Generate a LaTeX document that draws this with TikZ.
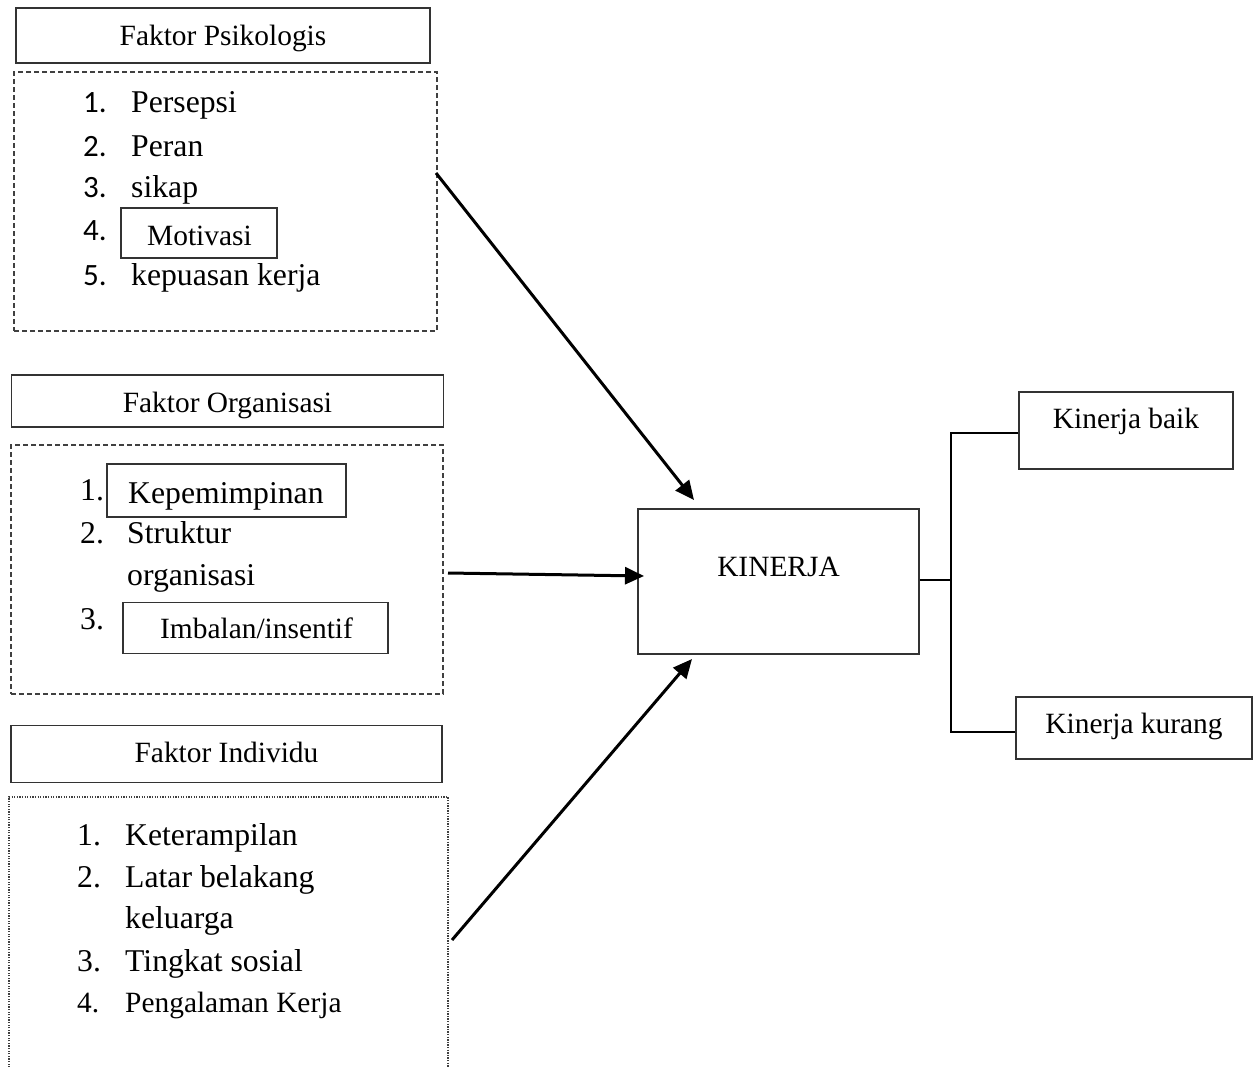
\documentclass[tikz,border=0pt]{standalone}
\usepackage{fontspec}
\setmainfont{Liberation Serif}
\newfontfamily\calib{Carlito}
\usetikzlibrary{arrows.meta}
\begin{document}
\begin{tikzpicture}[x=1pt,y=-1pt,
  box/.style={draw=black!80, line width=1.4pt, inner sep=0pt},
  dashbox/.style={draw=black!75, line width=1.4pt, dash pattern=on 5pt off 3pt, inner sep=0pt},
  dotbox/.style={draw=black!75, line width=1.2pt, dash pattern=on 1.3pt off 1.3pt},
  hdr/.style={font=\fontsize{29.4}{35}\selectfont, inner sep=0pt, anchor=base},
  item/.style={font=\fontsize{31.7}{37}\selectfont, inner sep=0pt, anchor=base west},
  lbl/.style={font=\fontsize{29.4}{35}\selectfont, inner sep=0pt, anchor=base west},
  num/.style={font=\calib\fontsize{31}{36}\selectfont, inner sep=0pt, anchor=base west},
  arr/.style={line width=3pt, -{Triangle[length=19pt,width=17pt]}},
  conn/.style={line width=2.4pt}]
\useasboundingbox[fill=white] (0,0) rectangle (1260,1066);

% Faktor Psikologis
\node[box, minimum width=414, minimum height=55] (psi) at (223,35.5) {};
\node[hdr] (psit) at (223,45) {Faktor Psikologis};
\node[dashbox, minimum width=423, minimum height=259] (psil) at (225.5,201.5) {};
\node[num] (p1n) at (83,112) {1.};
\node[item] (p1) at (131,112) {Persepsi};
\node[num] (p2n) at (83,156) {2.};
\node[item] (p2) at (131,156) {Peran};
\node[num] (p3n) at (83,197) {3.};
\node[item] (p3) at (131,197) {sikap};
\node[num] (p4n) at (83,240) {4.};
\node[box, minimum width=156, minimum height=50] (p4b) at (199,233) {};
\node[lbl] (p4) at (147,245) {Motivasi};
\node[num] (p5n) at (83,285) {5.};
\node[item] (p5) at (131,285) {kepuasan kerja};

% Faktor Organisasi
\node[box, minimum width=432, minimum height=52] (org) at (227.5,401) {};
\node[hdr] (orgt) at (227.5,412) {Faktor Organisasi};
\node[dashbox, minimum width=432, minimum height=249] (orgl) at (227,569.5) {};
\node[item] (o1n) at (80,500) {1.};
\node[box, minimum width=239, minimum height=53] (o1b) at (226.5,490.5) {};
\node[item] (o1) at (128,503) {Kepemimpinan};
\node[item] (o2n) at (80,543) {2.};
\node[item] (o2) at (127,543) {Struktur};
\node[item] (o2b) at (127,585) {organisasi};
\node[item] (o3n) at (80,629) {3.};
\node[box, minimum width=265, minimum height=51] (o3b) at (255.5,628) {};
\node[lbl] (o3) at (160,638) {Imbalan/insentif};

% Faktor Individu
\node[box, minimum width=431, minimum height=57] (ind) at (226.5,754) {};
\node[hdr] (indt) at (226.5,762) {Faktor Individu};
\draw[dotbox] (9,1070) -- (9,797) -- (448,797) -- (448,1070);
\node[item] (i1n) at (77,845) {1.};
\node[item] (i1) at (125,845) {Keterampilan};
\node[item] (i2n) at (77,887) {2.};
\node[item] (i2) at (125,887) {Latar belakang};
\node[item] (i2b) at (125,928) {keluarga};
\node[item] (i3n) at (77,971) {3.};
\node[item] (i3) at (125,971) {Tingkat sosial};
\node[lbl] (i4n) at (77,1012) {4.};
\node[lbl] (i4) at (125,1012) {Pengalaman Kerja};

% KINERJA
\node[box, minimum width=281, minimum height=145] (kin) at (778.5,581.5) {};
\node[hdr] (kint) at (778.5,576) {KINERJA};
\node[box, minimum width=214, minimum height=77] (baik) at (1126,430.5) {};
\node[hdr] (baikt) at (1126,428) {Kinerja baik};
\node[box, minimum width=236, minimum height=62] (kur) at (1134,728) {};
\node[hdr] (kurt) at (1134,733) {Kinerja kurang};

% arrows
\coordinate (a1s) at (436,173);
\coordinate (a1e) at (694,500);
\coordinate (a2s) at (448,573);
\coordinate (a2e) at (644,576);
\coordinate (a3s) at (452,940);
\coordinate (a3e) at (692,659);
\draw[arr] (a1s) -- (a1e);
\draw[arr] (a2s) -- (a2e);
\draw[arr] (a3s) -- (a3e);

% bracket
\coordinate (br) at (951,580);
\draw[conn] (kin.east |- br) -- (br);
\draw[conn] (baik.west |- 0,433) -| (br);
\draw[conn] (kur.west |- 0,732) -| (br);
\end{tikzpicture}
\end{document}
